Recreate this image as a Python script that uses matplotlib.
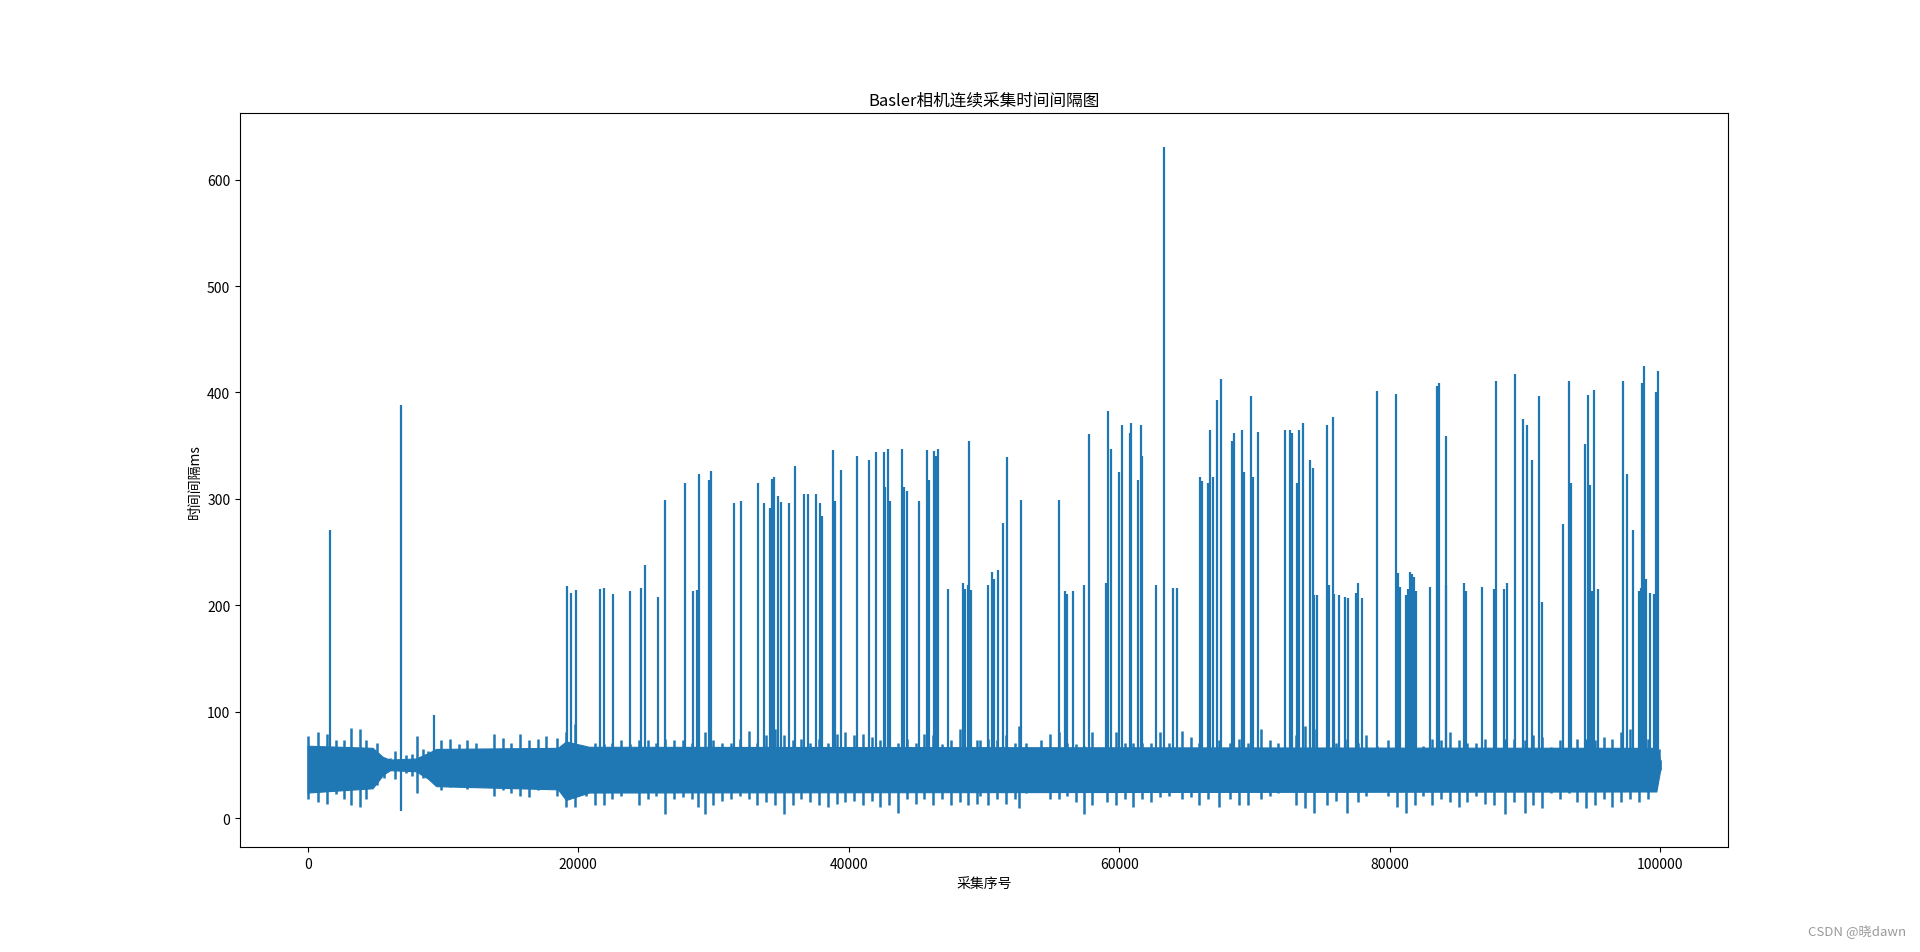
# -*- coding: utf-8 -*-
import matplotlib
matplotlib.use("Agg")
import matplotlib.pyplot as plt

plt.rcParams['font.family'] = ['Noto Sans CJK SC', 'DejaVu Sans']
plt.rcParams['axes.unicode_minus'] = False

# solid core of the interval band (sample index, upper, lower)
core_idx = [0, 4800, 5600, 6100, 8000, 8900, 9500, 18500, 19100, 20800, 99700, 99999]
core_hi = [68, 66, 57, 55, 56, 61, 65, 66, 72, 67, 66, 54]
core_lo = [24, 28, 41, 45, 44, 37, 30, 27, 17, 24, 25, 46]

# outer tips of the band (sample index, upper edge, lower edge)
band_idx = [0, 761, 1410, 2060, 2710, 3197, 3847, 4335, 5147, 5634, 6121, 6446, 7259, 7746,
            8071, 8558, 8882, 9858, 10507, 11157, 11807, 12457, 13107, 13757, 14406, 15056,
            15706, 16356, 17006, 17655, 18468, 19117, 19767, 20580, 21230, 21879, 22529,
            23179, 23829, 24478, 25128, 25778, 26428, 27078, 27727, 28377, 28864, 29352,
            30002, 30651, 31301, 31951, 32601, 33251, 33900, 34550, 35200, 35850, 36500,
            37150, 37799, 38449, 39099, 39749, 40399, 41048, 41698, 42348, 42998, 43648,
            44297, 44947, 45597, 46247, 46897, 47546, 48196, 48846, 49496,
            49672, 50322, 50972, 51621, 52271, 52596, 53083, 53571, 54221, 54870, 55520,
            56170, 56820, 57405, 57957, 58444, 59094, 59744, 60394, 61044, 61693, 62343,
            62993, 63643, 64617, 65267, 65917, 66567, 67379, 68191, 68841, 69491, 70466,
            71115, 71765, 72415, 73065, 73715, 74364, 75339, 75989, 76801, 77613, 78263,
            79076, 79888, 80538, 81187, 81837, 82487, 83137, 83787, 84436, 85086, 85736,
            86386, 87036, 87685, 88497, 89147, 89960, 90609, 91259, 91909, 92559, 93209,
            93858, 94508, 95158, 95808, 96458, 97107, 97757, 98407, 99057, 99870, 99999]
band_hi = [77, 81, 79, 73, 73, 85, 84, 73, 71, 57, 56, 63, 59, 60,
           77, 65, 63, 73, 74, 70, 73, 71, 62, 79, 75, 71,
           79, 73, 74, 77, 75, 81, 88, 66, 71, 70, 71,
           73, 70, 73, 73, 71, 74, 73, 73, 71, 74, 81,
           73, 71, 71, 74, 82, 71, 78, 84, 78, 73, 74,
           71, 74, 71, 79, 81, 78, 79, 76, 73, 70, 71,
           74, 71, 79, 78, 70, 73, 84, 71, 73,
           73, 74, 73, 78, 71, 87, 71, 60, 73, 79, 81,
           71, 70, 68, 81, 60, 71, 81, 71, 71, 71, 71,
           81, 71, 82, 76, 71, 73, 73, 71, 74, 71, 84,
           73, 71, 66, 78, 87, 84, 71, 71, 74, 71, 78,
           68, 73, 71, 73, 71, 68, 74, 73, 81, 73, 71,
           71, 74, 78, 74, 74, 73, 78, 76, 67, 73, 68,
           74, 74, 73, 76, 74, 81, 84, 76, 74, 65, 55]
band_lo = [18, 15, 13, 23, 18, 12, 10, 18, 31, 38, 45, 37, 42, 40,
           24, 38, 38, 26, 29, 29, 27, 29, 35, 21, 26, 24,
           21, 20, 26, 27, 21, 10, 10, 21, 12, 12, 18,
           21, 31, 12, 18, 21, 4, 18, 20, 18, 10, 4,
           12, 16, 18, 21, 18, 12, 15, 12, 4, 12, 18,
           15, 12, 10, 13, 15, 16, 12, 16, 10, 12, 5,
           18, 13, 18, 12, 18, 12, 15, 12, 13,
           21, 12, 18, 13, 18, 9, 24, 37, 27, 18, 18,
           21, 15, 4, 12, 27, 15, 12, 18, 10, 18, 15,
           20, 21, 18, 20, 12, 18, 10, 18, 12, 12, 18,
           21, 24, 28, 12, 9, 5, 12, 16, 5, 15, 21,
           34, 21, 10, 5, 12, 21, 12, 18, 15, 10, 15,
           21, 13, 12, 4, 15, 5, 12, 9, 24, 18, 24,
           15, 9, 12, 18, 10, 15, 18, 15, 18, 46, 45]

# single long intervals sticking out of the band
spike_idx = [1676, 6869, 9305, 19199, 19445, 19814, 21611, 21906, 22596, 23802, 24614, 24909,
             25918, 26435, 27912, 28503, 28749, 28921, 29684, 29832, 31508, 32025, 33305,
             33723, 34166, 34314, 34511, 34806, 35028, 35570, 36037, 36702, 37022, 37612,
             37907, 38055, 38843, 38966, 39409, 40615, 41501, 42043, 42584, 42707, 42928,
             43027, 43913, 44061, 44307, 45193, 45808, 45956, 46276, 46424, 46596, 47310,
             48417, 48565, 48786, 48885, 49058, 50289, 50584, 50732, 51003, 51372, 51692,
             52701, 55507, 55999, 56122, 56615, 57378, 57796, 59052, 59199, 59396, 59987,
             60184, 60799, 60898, 61390, 61587, 61686, 62695, 63286, 63975, 64270, 65968,
             66116, 66581, 66680, 66901, 67246, 67492, 68329, 68452, 69043, 69240, 69732,
             69905, 70274, 72268, 72637, 72785, 73105, 73252, 73548, 74114, 74287, 74410,
             74582, 75345, 75493, 75763, 75862, 76256, 76650, 76871, 77511, 77659, 77954,
             79037, 80440, 80612, 80735, 81227, 81375, 81523, 81670, 81818, 81966, 83000,
             83492, 83665, 84132, 84181, 85510, 85657, 86814, 87700, 87823, 88439, 88636,
             89251, 89817, 90137, 90506, 91048, 91220, 92796, 93214, 93362, 94420, 94617,
             94814, 94962, 95110, 95405, 97227, 97546, 97989, 98407, 98555, 98678, 98801,
             98949, 99220, 99515, 99663, 99811]
spike_val = [271, 388, 97, 218, 212, 214, 215, 216, 211, 213, 216, 238,
             208, 299, 315, 213, 214, 323, 318, 326, 296, 298, 315,
             296, 291, 319, 321, 303, 297, 296, 331, 305, 305, 305,
             296, 284, 346, 298, 327, 340, 337, 344, 344, 311, 347,
             298, 347, 311, 307, 298, 346, 318, 345, 340, 347, 215,
             221, 215, 219, 354, 214, 219, 231, 225, 233, 277, 339,
             299, 299, 213, 211, 213, 219, 361, 221, 383, 347, 325,
             369, 362, 371, 318, 369, 340, 219, 631, 216, 216, 321,
             317, 315, 365, 321, 393, 413, 354, 362, 365, 325, 397,
             321, 363, 365, 365, 362, 315, 365, 371, 337, 329, 210,
             210, 369, 219, 377, 211, 210, 208, 207, 212, 221, 207,
             401, 399, 230, 217, 210, 215, 231, 229, 227, 213, 217,
             406, 409, 359, 219, 221, 213, 217, 215, 411, 215, 221,
             417, 375, 369, 337, 397, 203, 276, 411, 315, 352, 398,
             313, 213, 402, 215, 411, 323, 271, 213, 216, 409, 425,
             225, 212, 211, 400, 420]

# short intervals dropping below the band
dip_idx = [6869]
dip_val = [7]


def plotIntervals():
    '''
    draws the band core, its ragged tips, the spikes and the dips in one colour
    '''
    color = '#1f77b4'
    fig, ax = plt.subplots(figsize=(19.2, 9.53), dpi=100)
    ax.fill_between(core_idx, core_lo, core_hi, color=color, linewidth=0.8)
    ax.vlines(band_idx, band_lo, band_hi, color=color, linewidth=1.8)
    ax.vlines(spike_idx, 50, spike_val, color=color, linewidth=1.6)
    ax.vlines(dip_idx, dip_val, 50, color=color, linewidth=1.6)

    ax.set_title('Basler相机连续采集时间间隔图', fontsize=12)
    ax.set_xlabel('采集序号')
    ax.set_ylabel('时间间隔ms')

    fig.text(0.993, 0.016, 'CSDN @晓dawn', ha='right', va='bottom',
             color='#9a9a9a', fontsize=9.5)
    fig.savefig('out.png', dpi=100)


plotIntervals()
